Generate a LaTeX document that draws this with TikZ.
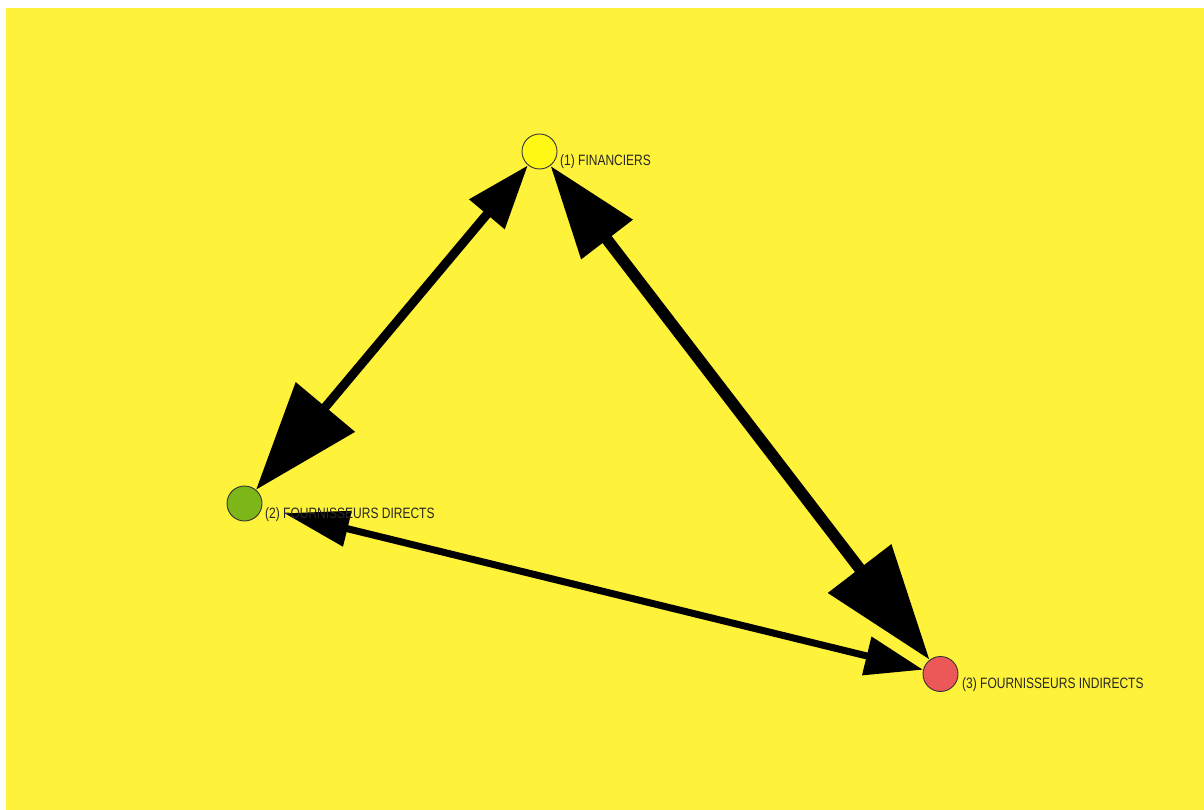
\documentclass[tikz,border=0pt]{standalone}
\usepackage{fontspec}
\setmainfont{Liberation Sans}[FakeStretch=0.8]
\usetikzlibrary{arrows.meta}
\definecolor{bgyellow}{RGB}{255,242,58}
\definecolor{nodeyellow}{RGB}{255,248,20}
\definecolor{nodegreen}{RGB}{125,182,24}
\definecolor{nodered}{RGB}{236,88,88}
\tikzset{
  vertex/.style={circle, draw=black!80, line width=0.9pt, minimum size=35pt, inner sep=0pt},
  vlabel/.style={anchor=base west, inner sep=0pt, font=\fontsize{15}{16}\selectfont, text=black!85},
  link/.style={draw=black, line join=miter},
}
\begin{document}
\begin{tikzpicture}[x=1pt,y=-1pt]
\useasboundingbox (0,0) rectangle (1204,810);
\fill[white] (0,0) rectangle (1204,810);
\fill[bgyellow] (6,8) rectangle (1204,810);
\node[vertex, fill=nodeyellow] (n1) at (539.5,151.5) {};
\node[vertex, fill=nodegreen] (n2) at (244.5,503.5) {};
\node[vertex, fill=nodered] (n3) at (940.5,674) {};
\draw[link, line width=9pt, {Triangle[length=64pt,width=44pt]}-{Triangle[length=108pt,width=75pt]}] (n1) -- (n2);
\draw[link, line width=11.5pt, {Triangle[length=93pt,width=62pt]}-{Triangle[length=115pt,width=77pt]}] (n1) -- (n3);
\draw[link, line width=7pt, shorten <=23pt, {Triangle[length=65pt,width=35pt]}-{Triangle[length=58pt,width=38pt]}] (n2) -- (n3);
\node[vlabel] (l1) at (560,166) {(1) FINANCIERS};
\node[vlabel] (l2) at (265,518.5) {(2) FOURNISSEURS DIRECTS};
\node[vlabel] (l3) at (962,688) {(3) FOURNISSEURS INDIRECTS};
\end{tikzpicture}
\end{document}
